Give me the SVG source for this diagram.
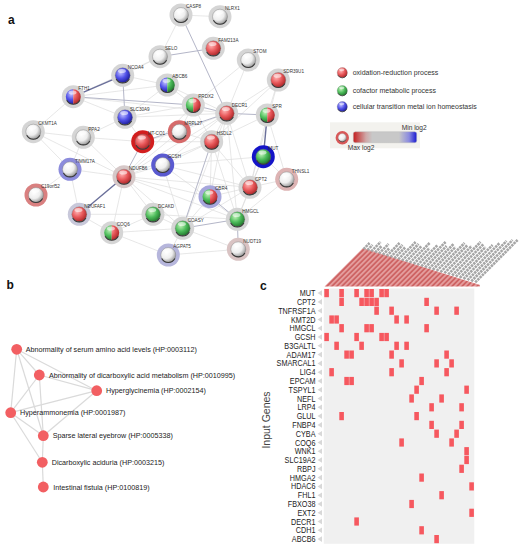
<svg xmlns="http://www.w3.org/2000/svg" xmlns:xlink="http://www.w3.org/1999/xlink" width="527" height="550" viewBox="0 0 527 550">
<style>
.pl{font-family:"Liberation Sans",Arial,sans-serif;font-weight:bold;font-size:12px;fill:#111}
.nl{font-family:"Liberation Sans",Arial,sans-serif;font-size:4.6px;fill:#333}
.lg{font-family:"Liberation Sans",Arial,sans-serif;font-size:7px;fill:#333}
.bl{font-family:"Liberation Sans",Arial,sans-serif;font-size:7.2px;fill:#222}
.rl{font-family:"Liberation Sans",Arial,sans-serif;font-size:8.6px;fill:#222;text-anchor:end}
.halo{fill:#d5d5d5}
.sp{stroke:#777;stroke-width:0.4}
.hl{fill:#fff;opacity:0.55}
.e0{stroke:#dcdcdc;stroke-width:0.7}
.e1{stroke:#b4b6c8;stroke-width:1}
.e2{stroke:#6a6f9a;stroke-width:1.4}
.be{stroke:#dadada;stroke-width:1.2}
.bn{fill:#f25f62}
.cl{fill:#f6585f}
.gl{stroke:#a6a6a6;stroke-width:2.6;stroke-dasharray:2.5 0.7}
</style>
<defs>
<radialGradient id="gR" gradientUnits="userSpaceOnUse" cx="-2" cy="-2.5" r="10"><stop offset="0" stop-color="#ffb2b2"/><stop offset="0.55" stop-color="#e8585a"/><stop offset="1" stop-color="#b02a2c"/></radialGradient>
<radialGradient id="gG" gradientUnits="userSpaceOnUse" cx="-2" cy="-2.5" r="10"><stop offset="0" stop-color="#c0f2b8"/><stop offset="0.55" stop-color="#4cbc5a"/><stop offset="1" stop-color="#257a30"/></radialGradient>
<radialGradient id="gB" gradientUnits="userSpaceOnUse" cx="-2" cy="-2.5" r="10"><stop offset="0" stop-color="#c0c0ff"/><stop offset="0.55" stop-color="#5050e8"/><stop offset="1" stop-color="#20209e"/></radialGradient>
<radialGradient id="gW" gradientUnits="userSpaceOnUse" cx="-2" cy="-2.5" r="10"><stop offset="0" stop-color="#ffffff"/><stop offset="0.6" stop-color="#eeeeee"/><stop offset="1" stop-color="#a0a0a0"/></radialGradient>
<linearGradient id="bar" x1="0" x2="1" y1="0" y2="0"><stop offset="0" stop-color="#c41e1e"/><stop offset="0.2" stop-color="#cfa8a8"/><stop offset="0.3" stop-color="#c8c8c8"/><stop offset="0.72" stop-color="#c8c8c8"/><stop offset="0.88" stop-color="#8a8ae0"/><stop offset="1" stop-color="#1818d0"/></linearGradient>
<pattern id="pk" width="3.54" height="10" patternUnits="userSpaceOnUse" patternTransform="rotate(45)"><rect width="3.54" height="10" fill="#e6a2a2"/><rect x="0.8" width="1.7" height="10" fill="#cc5e5e"/></pattern>
<path id="rim" d="M-6.6,3.6 A7.5,7.5 0 0 0 6.6,3.6" fill="none" stroke="#3a3a3a" stroke-width="1.1"/>
<ellipse id="hi" class="hl" cx="-0.8" cy="-4.2" rx="4" ry="2"/>
<path id="lh" d="M0,-7.5A7.5,7.5 0 0 0 0,7.5Z"/>
<path id="rh" d="M0,-7.5A7.5,7.5 0 0 1 0,7.5Z"/>
<rect id="cl" class="cl" width="4.6" height="8.2"/>
<path id="tri" d="M322,-2.8 L317.5,0 L322,2.8Z" fill="#d8d8d8"/>
</defs>
<rect width="527" height="550" fill="#fff"/>

<text class="pl" x="8" y="23.5">a</text>
<text class="pl" x="6.5" y="289">b</text>
<text class="pl" x="260" y="289.5">c</text>

<g id="connectors-a">
<line class="e0" x1="73.3" y1="96.7" x2="167.3" y2="85"/>
<line class="e0" x1="73.3" y1="96.7" x2="226.7" y2="113.3"/>
<line class="e0" x1="73.3" y1="96.7" x2="125" y2="117.3"/>
<line class="e0" x1="73.3" y1="96.7" x2="160" y2="56.7"/>
<line class="e0" x1="73.3" y1="96.7" x2="33.3" y2="131.7"/>
<line class="e0" x1="122.7" y1="75.3" x2="167.3" y2="85"/>
<line class="e0" x1="122.7" y1="75.3" x2="160" y2="56.7"/>
<line class="e0" x1="125" y1="117.3" x2="193.3" y2="105"/>
<line class="e0" x1="125" y1="117.3" x2="226.7" y2="113.3"/>
<line class="e0" x1="125" y1="117.3" x2="142.7" y2="141.7"/>
<line class="e0" x1="125" y1="117.3" x2="167.3" y2="85"/>
<line class="e0" x1="125" y1="117.3" x2="83.3" y2="137.3"/>
<line class="e0" x1="160" y1="56.7" x2="181" y2="15"/>
<line class="e0" x1="181" y1="15" x2="220" y2="16.7"/>
<line class="e0" x1="248.3" y1="60" x2="226.7" y2="113.3"/>
<line class="e0" x1="248.3" y1="60" x2="193.3" y2="105"/>
<line class="e0" x1="278.3" y1="80" x2="226.7" y2="113.3"/>
<line class="e0" x1="278.3" y1="80" x2="267.3" y2="115"/>
<line class="e0" x1="278.3" y1="80" x2="211.7" y2="141.7"/>
<line class="e0" x1="278.3" y1="80" x2="250" y2="187.3"/>
<line class="e0" x1="167.3" y1="85" x2="193.3" y2="105"/>
<line class="e0" x1="167.3" y1="85" x2="226.7" y2="113.3"/>
<line class="e0" x1="193.3" y1="105" x2="179.3" y2="131.7"/>
<line class="e0" x1="193.3" y1="105" x2="211.7" y2="141.7"/>
<line class="e0" x1="193.3" y1="105" x2="124" y2="176.7"/>
<line class="e0" x1="226.7" y1="113.3" x2="211.7" y2="141.7"/>
<line class="e0" x1="226.7" y1="113.3" x2="250" y2="187.3"/>
<line class="e0" x1="226.7" y1="113.3" x2="237.3" y2="219.3"/>
<line class="e0" x1="226.7" y1="113.3" x2="210" y2="196.7"/>
<line class="e0" x1="226.7" y1="113.3" x2="179.3" y2="131.7"/>
<line class="e0" x1="226.7" y1="113.3" x2="124" y2="176.7"/>
<line class="e0" x1="226.7" y1="113.3" x2="182.7" y2="228.3"/>
<line class="e0" x1="226.7" y1="113.3" x2="162.7" y2="165"/>
<line class="e0" x1="267.3" y1="115" x2="211.7" y2="141.7"/>
<line class="e0" x1="267.3" y1="115" x2="286.7" y2="179.3"/>
<line class="e0" x1="267.3" y1="115" x2="250" y2="187.3"/>
<line class="e0" x1="179.3" y1="131.7" x2="211.7" y2="141.7"/>
<line class="e0" x1="179.3" y1="131.7" x2="142.7" y2="141.7"/>
<line class="e0" x1="179.3" y1="131.7" x2="124" y2="176.7"/>
<line class="e0" x1="142.7" y1="141.7" x2="83.3" y2="137.3"/>
<line class="e0" x1="142.7" y1="141.7" x2="211.7" y2="141.7"/>
<line class="e0" x1="211.7" y1="141.7" x2="250" y2="187.3"/>
<line class="e0" x1="211.7" y1="141.7" x2="124" y2="176.7"/>
<line class="e0" x1="211.7" y1="141.7" x2="162.7" y2="165"/>
<line class="e0" x1="211.7" y1="141.7" x2="210" y2="196.7"/>
<line class="e0" x1="211.7" y1="141.7" x2="237.3" y2="219.3"/>
<line class="e0" x1="263.3" y1="156.7" x2="286.7" y2="179.3"/>
<line class="e0" x1="263.3" y1="156.7" x2="250" y2="187.3"/>
<line class="e0" x1="263.3" y1="156.7" x2="237.3" y2="219.3"/>
<line class="e0" x1="263.3" y1="156.7" x2="162.7" y2="165"/>
<line class="e0" x1="162.7" y1="165" x2="124" y2="176.7"/>
<line class="e0" x1="162.7" y1="165" x2="237.3" y2="219.3"/>
<line class="e0" x1="162.7" y1="165" x2="182.7" y2="228.3"/>
<line class="e0" x1="162.7" y1="165" x2="250" y2="187.3"/>
<line class="e0" x1="286.7" y1="179.3" x2="250" y2="187.3"/>
<line class="e0" x1="286.7" y1="179.3" x2="237.3" y2="219.3"/>
<line class="e0" x1="70" y1="169.3" x2="124" y2="176.7"/>
<line class="e0" x1="70" y1="169.3" x2="33.3" y2="131.7"/>
<line class="e0" x1="70" y1="169.3" x2="36" y2="195"/>
<line class="e0" x1="70" y1="169.3" x2="79.3" y2="214.3"/>
<line class="e0" x1="70" y1="169.3" x2="83.3" y2="137.3"/>
<line class="e0" x1="33.3" y1="131.7" x2="83.3" y2="137.3"/>
<line class="e0" x1="33.3" y1="131.7" x2="124" y2="176.7"/>
<line class="e0" x1="83.3" y1="137.3" x2="124" y2="176.7"/>
<line class="e0" x1="124" y1="176.7" x2="111.7" y2="232.7"/>
<line class="e0" x1="124" y1="176.7" x2="153" y2="214.3"/>
<line class="e0" x1="124" y1="176.7" x2="250" y2="187.3"/>
<line class="e0" x1="124" y1="176.7" x2="237.3" y2="219.3"/>
<line class="e0" x1="124" y1="176.7" x2="182.7" y2="228.3"/>
<line class="e0" x1="124" y1="176.7" x2="210" y2="196.7"/>
<line class="e0" x1="79.3" y1="214.3" x2="111.7" y2="232.7"/>
<line class="e0" x1="79.3" y1="214.3" x2="153" y2="214.3"/>
<line class="e0" x1="111.7" y1="232.7" x2="153" y2="214.3"/>
<line class="e0" x1="111.7" y1="232.7" x2="182.7" y2="228.3"/>
<line class="e0" x1="111.7" y1="232.7" x2="168.3" y2="255"/>
<line class="e0" x1="153" y1="214.3" x2="182.7" y2="228.3"/>
<line class="e0" x1="153" y1="214.3" x2="237.3" y2="219.3"/>
<line class="e0" x1="182.7" y1="228.3" x2="168.3" y2="255"/>
<line class="e0" x1="182.7" y1="228.3" x2="238.3" y2="249.3"/>
<line class="e0" x1="168.3" y1="255" x2="238.3" y2="249.3"/>
<line class="e0" x1="250" y1="187.3" x2="237.3" y2="219.3"/>
<line class="e0" x1="250" y1="187.3" x2="182.7" y2="228.3"/>
<line class="e0" x1="250" y1="187.3" x2="210" y2="196.7"/>
<line class="e0" x1="210" y1="196.7" x2="182.7" y2="228.3"/>
<line class="e1" x1="210" y1="196.7" x2="237.3" y2="219.3"/>
<line class="e1" x1="142.7" y1="141.7" x2="124" y2="176.7"/>
<line class="e1" x1="142.7" y1="141.7" x2="226.7" y2="113.3"/>
<line class="e1" x1="73.3" y1="96.7" x2="193.3" y2="105"/>
<line class="e1" x1="122.7" y1="75.3" x2="125" y2="117.3"/>
<line class="e1" x1="181" y1="15" x2="226.7" y2="113.3"/>
<line class="e1" x1="160" y1="56.7" x2="213.3" y2="48.3"/>
<line class="e1" x1="193.3" y1="105" x2="226.7" y2="113.3"/>
<line class="e1" x1="226.7" y1="113.3" x2="267.3" y2="115"/>
<line class="e1" x1="237.3" y1="219.3" x2="238.3" y2="249.3"/>
<line class="e1" x1="211.7" y1="141.7" x2="182.7" y2="228.3"/>
<line class="e1" x1="182.7" y1="228.3" x2="237.3" y2="219.3"/>
<line class="e2" x1="73.3" y1="96.7" x2="122.7" y2="75.3"/>
<line class="e2" x1="124" y1="176.7" x2="79.3" y2="214.3"/>
<line class="e2" x1="267.3" y1="115" x2="263.3" y2="156.7"/>
</g>

<g id="n-CASP8" transform="translate(181,15)"><circle class="halo" r="11.5"/><circle class="sp" r="7.5" fill="url(#gW)"/><use href="#rim"/><use href="#hi"/><text class="nl" x="5" y="-6.8">CASP8</text></g>
<g id="n-NLRX1" transform="translate(220,16.7)"><circle class="halo" r="11.5"/><circle class="sp" r="7.5" fill="url(#gW)"/><use href="#rim"/><use href="#hi"/><text class="nl" x="5" y="-6.8">NLRX1</text></g>
<g id="n-FAM213A" transform="translate(213.3,48.3)"><circle class="halo" r="11.5"/><circle class="sp" r="7.5" fill="url(#gR)"/><use href="#rim"/><use href="#hi"/><text class="nl" x="5" y="-6.8">FAM213A</text></g>
<g id="n-SELO" transform="translate(160,56.7)"><circle class="halo" r="11.5"/><circle class="sp" r="7.5" fill="url(#gW)"/><use href="#rim"/><use href="#hi"/><text class="nl" x="5" y="-6.8">SELO</text></g>
<g id="n-STOM" transform="translate(248.3,60)"><circle class="halo" r="11.5"/><circle class="sp" r="7.5" fill="url(#gW)"/><use href="#rim"/><use href="#hi"/><text class="nl" x="5" y="-6.8">STOM</text></g>
<g id="n-SDR39U1" transform="translate(278.3,80)"><circle class="halo" r="11.5"/><circle class="sp" r="7.5" fill="url(#gR)"/><use href="#rim"/><use href="#hi"/><text class="nl" x="5" y="-6.8">SDR39U1</text></g>
<g id="n-NCOA4" transform="translate(122.7,75.3)"><circle class="halo" r="11.5"/><circle class="sp" r="7.5" fill="url(#gB)"/><use href="#rim"/><use href="#hi"/><text class="nl" x="5" y="-6.8">NCOA4</text></g>
<g id="n-FTH1" transform="translate(73.3,96.7)"><circle class="halo" r="11.5"/><use href="#lh" fill="url(#gB)"/><use href="#rh" fill="url(#gR)"/><use href="#rim"/><use href="#hi"/><text class="nl" x="5" y="-6.8">FTH1</text></g>
<g id="n-ABCB6" transform="translate(167.3,85)"><circle class="halo" r="11.5"/><use href="#lh" fill="url(#gB)"/><use href="#rh" fill="url(#gG)"/><use href="#rim"/><use href="#hi"/><text class="nl" x="5" y="-6.8">ABCB6</text></g>
<g id="n-SLC30A9" transform="translate(125,117.3)"><circle class="halo" r="11.5"/><circle class="sp" r="7.5" fill="url(#gB)"/><use href="#rim"/><use href="#hi"/><text class="nl" x="5" y="-6.8">SLC30A9</text></g>
<g id="n-PRDX2" transform="translate(193.3,105)"><circle class="halo" r="11.5"/><use href="#lh" fill="url(#gG)"/><use href="#rh" fill="url(#gR)"/><use href="#rim"/><use href="#hi"/><text class="nl" x="5" y="-6.8">PRDX2</text></g>
<g id="n-DECR1" transform="translate(226.7,113.3)"><circle class="halo" r="11.5"/><circle class="sp" r="7.5" fill="url(#gR)"/><use href="#rim"/><use href="#hi"/><text class="nl" x="5" y="-6.8">DECR1</text></g>
<g id="n-SPR" transform="translate(267.3,115)"><circle class="halo" r="11.5"/><use href="#lh" fill="url(#gG)"/><use href="#rh" fill="url(#gR)"/><use href="#rim"/><use href="#hi"/><text class="nl" x="5" y="-6.8">SPR</text></g>
<g id="n-CKMT1A" transform="translate(33.3,131.7)"><circle class="halo" r="11.5"/><circle class="sp" r="7.5" fill="url(#gW)"/><use href="#rim"/><use href="#hi"/><text class="nl" x="5" y="-6.8">CKMT1A</text></g>
<g id="n-PPA2" transform="translate(83.3,137.3)"><circle class="halo" r="11.5"/><circle class="sp" r="7.5" fill="url(#gW)"/><use href="#rim"/><use href="#hi"/><text class="nl" x="5" y="-6.8">PPA2</text></g>
<g id="n-MRPL27" transform="translate(179.3,131.7)"><circle class="halo" r="11.5" style="fill:#d66a6a"/><circle class="sp" r="7.5" fill="url(#gW)"/><use href="#rim"/><use href="#hi"/><text class="nl" x="5" y="-6.8">MRPL27</text></g>
<g id="n-MT-CO1" transform="translate(142.7,141.7)"><circle class="halo" r="11.5" style="fill:#d21e1e"/><circle class="sp" r="7.5" fill="url(#gR)"/><use href="#rim"/><use href="#hi"/><text class="nl" x="5" y="-6.8">MT-CO1</text></g>
<g id="n-HSDL2" transform="translate(211.7,141.7)"><circle class="halo" r="11.5"/><circle class="sp" r="7.5" fill="url(#gR)"/><use href="#rim"/><use href="#hi"/><text class="nl" x="5" y="-6.8">HSDL2</text></g>
<g id="n-MUT" transform="translate(263.3,156.7)"><circle class="halo" r="11.5" style="fill:#1414c8"/><circle class="sp" r="7.5" fill="url(#gG)"/><use href="#rim"/><use href="#hi"/><text class="nl" x="5" y="-6.8">MUT</text></g>
<g id="n-GCSH" transform="translate(162.7,165)"><circle class="halo" r="11.5" style="fill:#5a5ad0"/><circle class="sp" r="7.5" fill="url(#gW)"/><use href="#rim"/><use href="#hi"/><text class="nl" x="5" y="-6.8">GCSH</text></g>
<g id="n-TIMM17A" transform="translate(70,169.3)"><circle class="halo" r="11.5" style="fill:#8c8cdc"/><circle class="sp" r="7.5" fill="url(#gW)"/><use href="#rim"/><use href="#hi"/><text class="nl" x="5" y="-6.8">TIMM17A</text></g>
<g id="n-NDUFB6" transform="translate(124,176.7)"><circle class="halo" r="11.5" style="fill:#d6c8c8"/><circle class="sp" r="7.5" fill="url(#gR)"/><use href="#rim"/><use href="#hi"/><text class="nl" x="5" y="-6.8">NDUFB6</text></g>
<g id="n-THNSL1" transform="translate(286.7,179.3)"><circle class="halo" r="11.5" style="fill:#ddb3b3"/><circle class="sp" r="7.5" fill="url(#gW)"/><use href="#rim"/><use href="#hi"/><text class="nl" x="5" y="-6.8">THNSL1</text></g>
<g id="n-C19orf52" transform="translate(36,195)"><circle class="halo" r="11.5" style="fill:#d98080"/><circle class="sp" r="7.5" fill="url(#gW)"/><use href="#rim"/><use href="#hi"/><text class="nl" x="5" y="-6.8">C19orf52</text></g>
<g id="n-CPT2" transform="translate(250,187.3)"><circle class="halo" r="11.5"/><circle class="sp" r="7.5" fill="url(#gR)"/><use href="#rim"/><use href="#hi"/><text class="nl" x="5" y="-6.8">CPT2</text></g>
<g id="n-CBR4" transform="translate(210,196.7)"><circle class="halo" r="11.5" style="fill:#a6a6dc"/><use href="#lh" fill="url(#gG)"/><use href="#rh" fill="url(#gR)"/><use href="#rim"/><use href="#hi"/><text class="nl" x="5" y="-6.8">CBR4</text></g>
<g id="n-NDUFAF1" transform="translate(79.3,214.3)"><circle class="halo" r="11.5" style="fill:#c8c8da"/><circle class="sp" r="7.5" fill="url(#gR)"/><use href="#rim"/><use href="#hi"/><text class="nl" x="5" y="-6.8">NDUFAF1</text></g>
<g id="n-DCAKD" transform="translate(153,214.3)"><circle class="halo" r="11.5"/><circle class="sp" r="7.5" fill="url(#gG)"/><use href="#rim"/><use href="#hi"/><text class="nl" x="5" y="-6.8">DCAKD</text></g>
<g id="n-HMGCL" transform="translate(237.3,219.3)"><circle class="halo" r="11.5"/><circle class="sp" r="7.5" fill="url(#gG)"/><use href="#rim"/><use href="#hi"/><text class="nl" x="5" y="-6.8">HMGCL</text></g>
<g id="n-COQ6" transform="translate(111.7,232.7)"><circle class="halo" r="11.5"/><use href="#lh" fill="url(#gG)"/><use href="#rh" fill="url(#gR)"/><use href="#rim"/><use href="#hi"/><text class="nl" x="5" y="-6.8">COQ6</text></g>
<g id="n-COASY" transform="translate(182.7,228.3)"><circle class="halo" r="11.5"/><circle class="sp" r="7.5" fill="url(#gG)"/><use href="#rim"/><use href="#hi"/><text class="nl" x="5" y="-6.8">COASY</text></g>
<g id="n-NUDT19" transform="translate(238.3,249.3)"><circle class="halo" r="11.5" style="fill:#d9c3c3"/><circle class="sp" r="7.5" fill="url(#gW)"/><use href="#rim"/><use href="#hi"/><text class="nl" x="5" y="-6.8">NUDT19</text></g>
<g id="n-AGPAT5" transform="translate(168.3,255)"><circle class="halo" r="11.5" style="fill:#b6b6dc"/><circle class="sp" r="7.5" fill="url(#gW)"/><use href="#rim"/><use href="#hi"/><text class="nl" x="5" y="-6.8">AGPAT5</text></g>

<g id="legend">
<g transform="translate(342.3,72.7) scale(0.68)"><circle class="sp" r="7.5" fill="url(#gR)"/><use href="#rim"/><use href="#hi"/></g>
<text class="lg" x="352.7" y="75.3">oxidation-reduction process</text>
<g transform="translate(342.3,90.7) scale(0.68)"><circle class="sp" r="7.5" fill="url(#gG)"/><use href="#rim"/><use href="#hi"/></g>
<text class="lg" x="352.7" y="93.3">cofactor metabolic process</text>
<g transform="translate(342.3,106.7) scale(0.68)"><circle class="sp" r="7.5" fill="url(#gB)"/><use href="#rim"/><use href="#hi"/></g>
<text class="lg" x="352.7" y="109.3">cellular transition metal ion homeostasis</text>
<rect x="330" y="122.3" width="90" height="26" fill="#f3f2ee"/>
<circle cx="342.3" cy="137.7" r="6.7" fill="#d85858"/>
<g transform="translate(342.3,137.7) scale(0.55)"><circle class="sp" r="7.5" fill="url(#gW)"/><use href="#rim"/></g>
<rect x="353.3" y="131.7" width="63.4" height="11" rx="2" fill="url(#bar)" stroke="#bdbdbd" stroke-width="0.5"/>
<text class="lg" x="401.7" y="130" style="font-size:6.6px">Min log2</text>
<text class="lg" x="347.7" y="150" style="font-size:6.6px">Max log2</text>
</g>

<g id="connectors-b">
<line class="be" x1="16.7" y1="349.3" x2="39.3" y2="375"/>
<line class="be" x1="16.7" y1="349.3" x2="96.7" y2="390.7"/>
<line class="be" x1="16.7" y1="349.3" x2="10.7" y2="412.7"/>
<line class="be" x1="16.7" y1="349.3" x2="43.3" y2="435.7"/>
<line class="be" x1="39.3" y1="375" x2="10.7" y2="412.7"/>
<line class="be" x1="39.3" y1="375" x2="43.3" y2="435.7"/>
<line class="be" x1="39.3" y1="375" x2="96.7" y2="390.7"/>
<line class="be" x1="96.7" y1="390.7" x2="10.7" y2="412.7"/>
<line class="be" x1="96.7" y1="390.7" x2="43.3" y2="435.7"/>
<line class="be" x1="10.7" y1="412.7" x2="43.3" y2="435.7"/>
<line class="be" x1="10.7" y1="412.7" x2="42.3" y2="462.3"/>
<line class="be" x1="43.3" y1="435.7" x2="42.3" y2="462.3"/>
<line class="be" x1="42.3" y1="462.3" x2="43.3" y2="487"/>
</g>
<g id="b-n1"><circle class="bn" cx="16.7" cy="349.3" r="5.4"/><text class="bl" x="25.7" y="351.9">Abnormality of serum amino acid levels (HP:0003112)</text></g>
<g id="b-n2"><circle class="bn" cx="39.3" cy="375" r="5.4"/><text class="bl" x="49" y="377.6">Abnormality of dicarboxylic acid metabolism (HP:0010995)</text></g>
<g id="b-n3"><circle class="bn" cx="96.7" cy="390.7" r="5.4"/><text class="bl" x="106" y="393.3">Hyperglycinemia (HP:0002154)</text></g>
<g id="b-n4"><circle class="bn" cx="10.7" cy="412.7" r="5.4"/><text class="bl" x="20" y="415.3">Hyperammonemia (HP:0001987)</text></g>
<g id="b-n5"><circle class="bn" cx="43.3" cy="435.7" r="5.4"/><text class="bl" x="52.7" y="438.3">Sparse lateral eyebrow (HP:0005338)</text></g>
<g id="b-n6"><circle class="bn" cx="42.3" cy="462.3" r="5.4"/><text class="bl" x="51.7" y="464.9">Dicarboxylic aciduria (HP:0003215)</text></g>
<g id="b-n7"><circle class="bn" cx="43.3" cy="487" r="5.4"/><text class="bl" x="53.3" y="489.6">Intestinal fistula (HP:0100819)</text></g>

<g id="heatmap">
<polygon points="324.5,286.5 363,248 480,285 480,286.5" fill="url(#pk)"/>
<g id="col-labels">
<line class="gl" x1="363.5" y1="249.1" x2="369.6" y2="243"/>
<line class="gl" x1="367.4" y1="250.2" x2="372.6" y2="245"/>
<line class="gl" x1="371.2" y1="251.4" x2="380.6" y2="242"/>
<line class="gl" x1="375.1" y1="252.5" x2="381.6" y2="246"/>
<line class="gl" x1="378.9" y1="253.7" x2="388.6" y2="244"/>
<line class="gl" x1="382.8" y1="254.8" x2="389.6" y2="248"/>
<line class="gl" x1="386.6" y1="256" x2="399.6" y2="243"/>
<line class="gl" x1="390.5" y1="257.1" x2="402.6" y2="245"/>
<line class="gl" x1="394.3" y1="258.3" x2="405.6" y2="247"/>
<line class="gl" x1="398.2" y1="259.4" x2="415.6" y2="242"/>
<line class="gl" x1="402" y1="260.6" x2="418.6" y2="244"/>
<line class="gl" x1="405.9" y1="261.7" x2="421.6" y2="246"/>
<line class="gl" x1="409.7" y1="262.9" x2="429.6" y2="243"/>
<line class="gl" x1="413.6" y1="264" x2="429.6" y2="248"/>
<line class="gl" x1="417.4" y1="265.2" x2="437.6" y2="245"/>
<line class="gl" x1="421.3" y1="266.3" x2="445.6" y2="242"/>
<line class="gl" x1="425.1" y1="267.5" x2="446.6" y2="246"/>
<line class="gl" x1="429" y1="268.6" x2="453.6" y2="244"/>
<line class="gl" x1="432.8" y1="269.8" x2="455.6" y2="247"/>
<line class="gl" x1="436.7" y1="270.9" x2="464.6" y2="243"/>
<line class="gl" x1="440.5" y1="272.1" x2="467.6" y2="245"/>
<line class="gl" x1="444.4" y1="273.2" x2="471.6" y2="246"/>
<line class="gl" x1="448.2" y1="274.4" x2="480.6" y2="242"/>
<line class="gl" x1="452.1" y1="275.5" x2="483.6" y2="244"/>
<line class="gl" x1="455.9" y1="276.7" x2="485.6" y2="247"/>
<line class="gl" x1="459.8" y1="277.8" x2="492.6" y2="245"/>
<line class="gl" x1="463.6" y1="279" x2="499.6" y2="243"/>
<line class="gl" x1="467.5" y1="280.1" x2="506.6" y2="241"/>
<line class="gl" x1="471.3" y1="281.3" x2="512.6" y2="240"/>
<line class="gl" x1="475.2" y1="282.4" x2="517.6" y2="240"/>
</g>
<rect x="323.8" y="288.5" width="150.5" height="255.3" fill="#f0f0f0"/>
<g id="cells">
<use href="#cl" x="324.3" y="289"/><use href="#cl" x="339.3" y="289"/><use href="#cl" x="354.3" y="289"/><use href="#cl" x="364.3" y="289"/><use href="#cl" x="369.3" y="289"/><use href="#cl" x="379.3" y="289"/><use href="#cl" x="384.3" y="289"/>
<use href="#cl" x="339.3" y="297.8"/><use href="#cl" x="359.3" y="297.8"/><use href="#cl" x="364.3" y="297.8"/><use href="#cl" x="369.3" y="297.8"/><use href="#cl" x="374.3" y="297.8"/><use href="#cl" x="424.3" y="297.8"/>
<use href="#cl" x="374.3" y="306.6"/><use href="#cl" x="389.3" y="306.6"/><use href="#cl" x="434.3" y="306.6"/><use href="#cl" x="454.3" y="306.6"/>
<use href="#cl" x="329.3" y="315.4"/><use href="#cl" x="334.3" y="315.4"/><use href="#cl" x="394.3" y="315.4"/><use href="#cl" x="404.3" y="315.4"/>
<use href="#cl" x="339.3" y="324.1"/><use href="#cl" x="364.3" y="324.1"/><use href="#cl" x="369.3" y="324.1"/><use href="#cl" x="424.3" y="324.1"/>
<use href="#cl" x="324.3" y="332.9"/><use href="#cl" x="354.3" y="332.9"/><use href="#cl" x="379.3" y="332.9"/><use href="#cl" x="384.3" y="332.9"/>
<use href="#cl" x="334.3" y="341.7"/><use href="#cl" x="359.3" y="341.7"/><use href="#cl" x="394.3" y="341.7"/><use href="#cl" x="404.3" y="341.7"/>
<use href="#cl" x="344.3" y="350.5"/><use href="#cl" x="349.3" y="350.5"/><use href="#cl" x="389.3" y="350.5"/><use href="#cl" x="444.3" y="350.5"/>
<use href="#cl" x="399.3" y="359.3"/><use href="#cl" x="434.3" y="359.3"/><use href="#cl" x="449.3" y="359.3"/>
<use href="#cl" x="329.3" y="368.1"/><use href="#cl" x="389.3" y="368.1"/><use href="#cl" x="444.3" y="368.1"/>
<use href="#cl" x="344.3" y="376.9"/><use href="#cl" x="349.3" y="376.9"/><use href="#cl" x="419.3" y="376.9"/>
<use href="#cl" x="414.3" y="385.6"/><use href="#cl" x="464.3" y="385.6"/>
<use href="#cl" x="409.3" y="394.4"/><use href="#cl" x="439.3" y="394.4"/>
<use href="#cl" x="429.3" y="403.2"/><use href="#cl" x="459.3" y="403.2"/>
<use href="#cl" x="339.3" y="412"/><use href="#cl" x="414.3" y="412"/>
<use href="#cl" x="429.3" y="420.8"/><use href="#cl" x="459.3" y="420.8"/>
<use href="#cl" x="434.3" y="429.6"/><use href="#cl" x="454.3" y="429.6"/>
<use href="#cl" x="399.3" y="438.4"/><use href="#cl" x="449.3" y="438.4"/>
<use href="#cl" x="464.3" y="447.1"/>
<use href="#cl" x="464.3" y="455.9"/>
<use href="#cl" x="459.3" y="464.7"/>
<use href="#cl" x="419.3" y="473.5"/>
<use href="#cl" x="469.3" y="482.3"/>
<use href="#cl" x="439.3" y="491.1"/>
<use href="#cl" x="409.3" y="499.9"/>
<use href="#cl" x="469.3" y="508.7"/>
<use href="#cl" x="354.3" y="517.4"/>
<use href="#cl" x="419.3" y="526.2"/>
<use href="#cl" x="434.3" y="535"/>
</g>
<g id="row-marks">
<use href="#tri" y="293.1"/><use href="#tri" y="301.9"/><use href="#tri" y="310.7"/><use href="#tri" y="319.5"/><use href="#tri" y="328.2"/><use href="#tri" y="337"/><use href="#tri" y="345.8"/><use href="#tri" y="354.6"/><use href="#tri" y="363.4"/><use href="#tri" y="372.2"/><use href="#tri" y="381"/><use href="#tri" y="389.7"/><use href="#tri" y="398.5"/><use href="#tri" y="407.3"/><use href="#tri" y="416.1"/><use href="#tri" y="424.9"/><use href="#tri" y="433.7"/><use href="#tri" y="442.5"/><use href="#tri" y="451.2"/><use href="#tri" y="460"/><use href="#tri" y="468.8"/><use href="#tri" y="477.6"/><use href="#tri" y="486.4"/><use href="#tri" y="495.2"/><use href="#tri" y="504"/><use href="#tri" y="512.8"/><use href="#tri" y="521.5"/><use href="#tri" y="530.3"/><use href="#tri" y="539.1"/>
</g>
<g id="row-labels" transform="translate(315.5,0) scale(0.84,1)">
<text class="rl" x="0" y="296.2">MUT</text>
<text class="rl" x="0" y="305">CPT2</text>
<text class="rl" x="0" y="313.8">TNFRSF1A</text>
<text class="rl" x="0" y="322.6">KMT2D</text>
<text class="rl" x="0" y="331.3">HMGCL</text>
<text class="rl" x="0" y="340.1">GCSH</text>
<text class="rl" x="0" y="348.9">B3GALTL</text>
<text class="rl" x="0" y="357.7">ADAM17</text>
<text class="rl" x="0" y="366.5">SMARCAL1</text>
<text class="rl" x="0" y="375.3">LIG4</text>
<text class="rl" x="0" y="384.1">EPCAM</text>
<text class="rl" x="0" y="392.8">TSPYL1</text>
<text class="rl" x="0" y="401.6">NEFL</text>
<text class="rl" x="0" y="410.4">LRP4</text>
<text class="rl" x="0" y="419.2">GLUL</text>
<text class="rl" x="0" y="428">FNBP4</text>
<text class="rl" x="0" y="436.8">CYBA</text>
<text class="rl" x="0" y="445.6">COQ6</text>
<text class="rl" x="0" y="454.3">WNK1</text>
<text class="rl" x="0" y="463.1">SLC19A2</text>
<text class="rl" x="0" y="471.9">RBPJ</text>
<text class="rl" x="0" y="480.7">HMGA2</text>
<text class="rl" x="0" y="489.5">HDAC6</text>
<text class="rl" x="0" y="498.3">FHL1</text>
<text class="rl" x="0" y="507.1">FBXO38</text>
<text class="rl" x="0" y="515.9">EXT2</text>
<text class="rl" x="0" y="524.6">DECR1</text>
<text class="rl" x="0" y="533.4">CDH1</text>
<text class="rl" x="0" y="542.2">ABCB6</text>
</g>
<text transform="translate(270,420) rotate(-90)" text-anchor="middle" style="font-family:'Liberation Sans',Arial,sans-serif;font-size:10.5px;fill:#444">Input Genes</text>
</g>
</svg>
